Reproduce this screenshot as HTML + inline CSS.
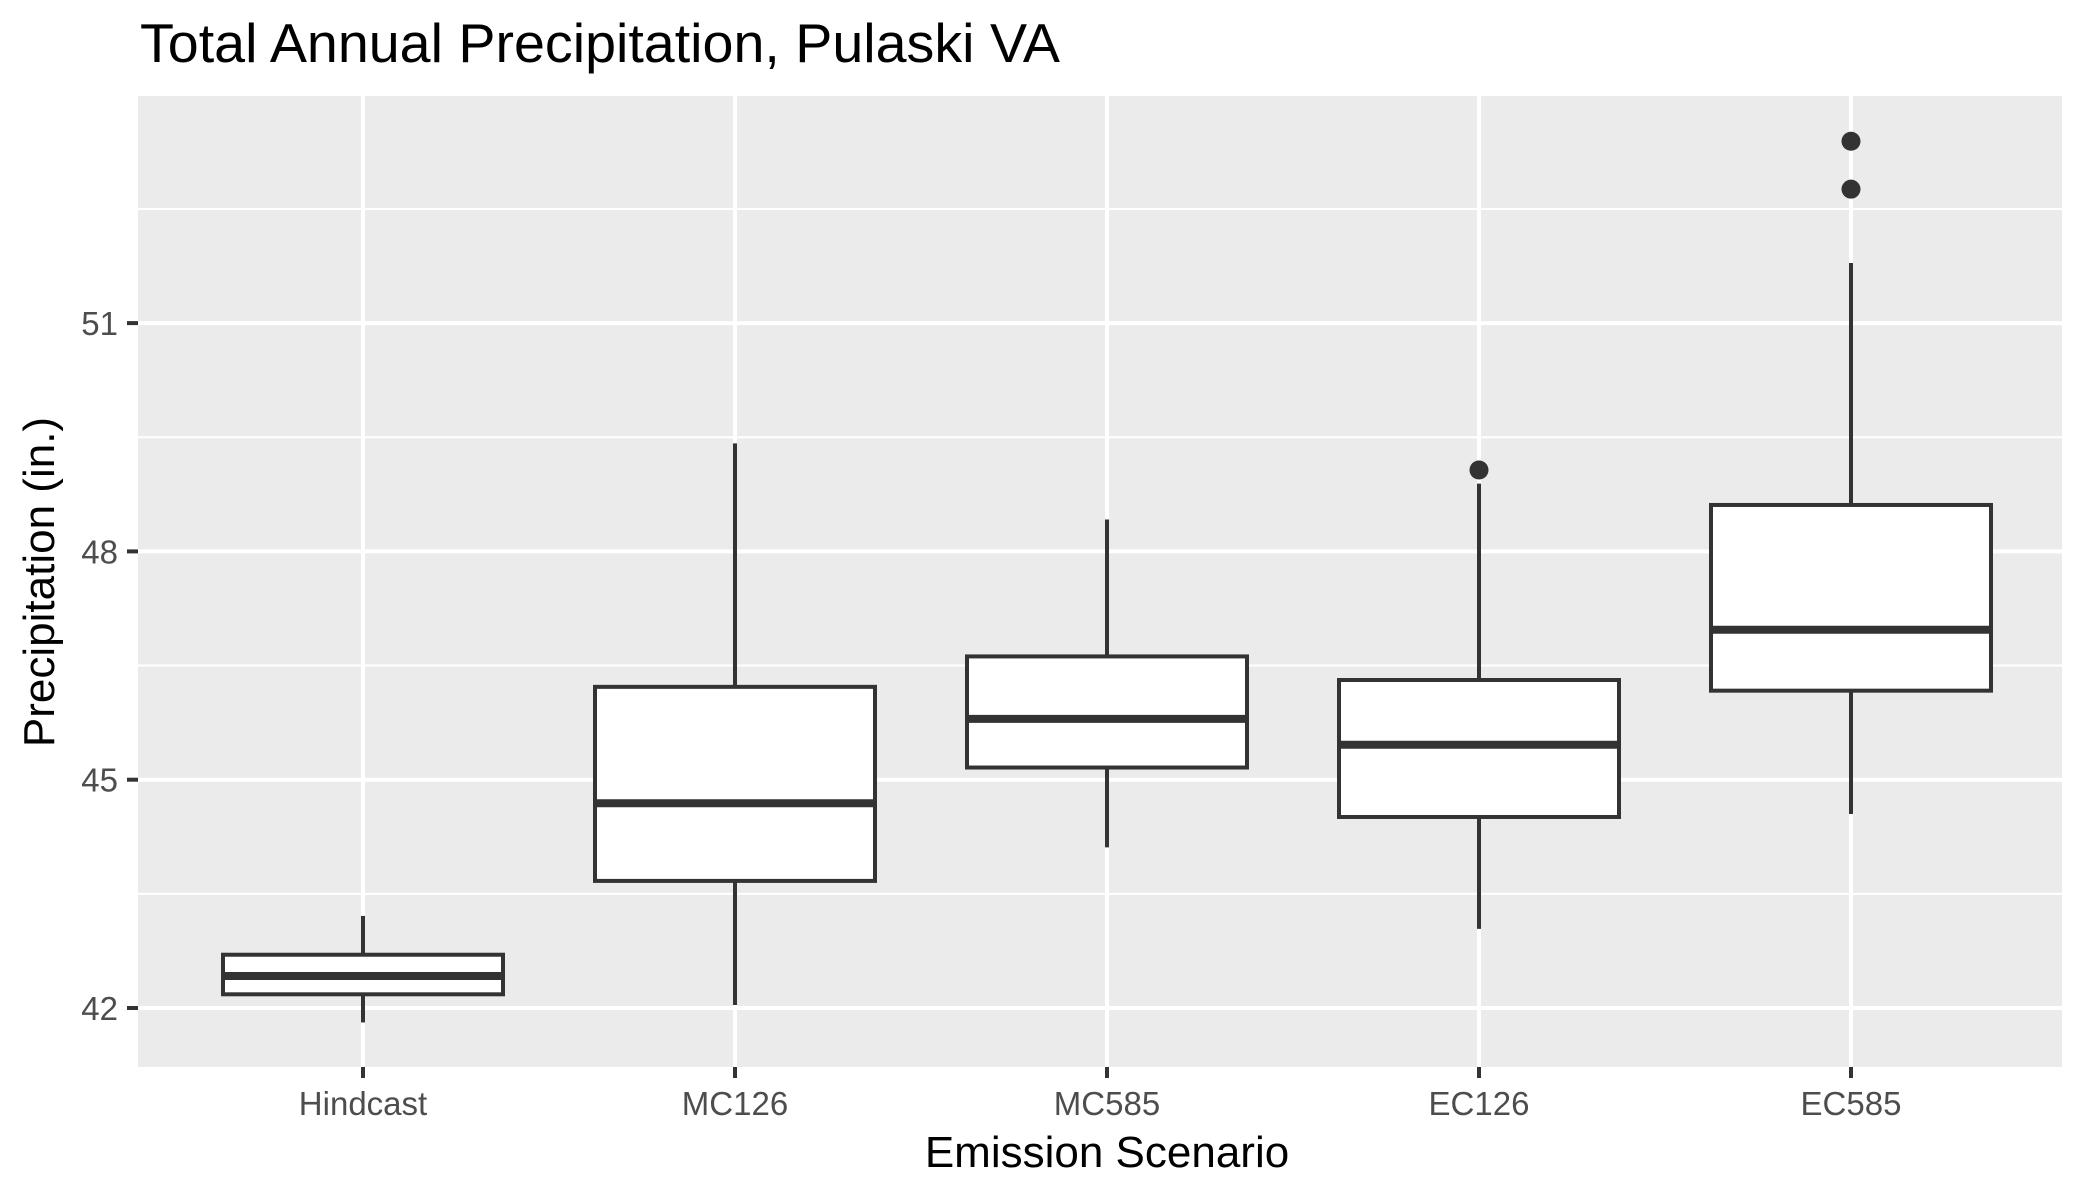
<!DOCTYPE html>
<html><head><meta charset="utf-8"><style>
html,body{margin:0;padding:0;background:#fff;}
svg{display:block;font-family:"Liberation Sans",sans-serif;}
</style></head><body>
<svg id="chart" width="2100" height="1200" viewBox="0 0 2100 1200">
<rect x="0" y="0" width="2100" height="1200" fill="#fff"/>
<text x="140" y="62" font-size="55" fill="#000" textLength="920" lengthAdjust="spacingAndGlyphs">Total Annual Precipitation, Pulaski VA</text>
<rect x="138" y="96" width="1924" height="971" fill="#ebebeb"/>
<g id="grid"></g>
<g id="marks"></g>
<g id="axes"></g>
<text x="1107" y="1167" font-size="44" text-anchor="middle" fill="#000">Emission Scenario</text>
<text transform="translate(54,582) rotate(-90)" font-size="44" text-anchor="middle" fill="#000">Precipitation (in.)</text>
</svg>
<script>
const categories = ["Hindcast","MC126","MC585","EC126","EC585"];
const whiskerLow = [41.81, 42.04, 44.11, 43.04, 44.55];
const q1 = [42.18, 43.67, 45.16, 44.51, 46.17];
const median = [42.42, 44.69, 45.80, 45.46, 46.97];
const q3 = [42.70, 46.22, 46.62, 46.31, 48.61];
const whiskerHigh = [43.21, 49.42, 48.42, 48.89, 51.79];
const outlierCat = [3, 4, 4];
const outlierVal = [49.07, 52.76, 53.39];
const yTicks = [42, 45, 48, 51];
const yMinor = [43.5, 46.5, 49.5, 52.5];

const NS = "http://www.w3.org/2000/svg";
const panelL = 138, panelR = 2062, panelT = 96, panelB = 1067;
function y(v){ return 1008 - (v - 42) * 76.1; }
function x(i){ return 363 + i * 372; }
const boxW = 280;
function mk(tag, attrs, parent){
  const e = document.createElementNS(NS, tag);
  for (const k in attrs) e.setAttribute(k, attrs[k]);
  parent.appendChild(e);
  return e;
}
const grid = document.getElementById('grid');
const marks = document.getElementById('marks');
const axes = document.getElementById('axes');

yMinor.forEach(v => {
  const l = mk('line', {x1: panelL, x2: panelR, y1: y(v), y2: y(v), stroke: '#fff', 'stroke-width': 2}, grid);
  
  
});
yTicks.forEach(v => {
  const l = mk('line', {x1: panelL, x2: panelR, y1: y(v), y2: y(v), stroke: '#fff', 'stroke-width': 4}, grid);
  
  
  const t = mk('line', {x1: panelL - 11, x2: panelL, y1: y(v), y2: y(v), stroke: '#333', 'stroke-width': 4}, axes);
  
  
  const tx = mk('text', {x: panelL - 20, y: y(v) + 12, 'font-size': 33, 'text-anchor': 'end', fill: '#4d4d4d'}, axes);
  tx.textContent = v;
  
  
});
categories.forEach((c, i) => {
  const l = mk('line', {x1: x(i), x2: x(i), y1: panelT, y2: panelB, stroke: '#fff', 'stroke-width': 4}, grid);
  
  
  const t = mk('line', {x1: x(i), x2: x(i), y1: panelB, y2: panelB + 11, stroke: '#333', 'stroke-width': 4}, axes);
  
  
  const tx = mk('text', {x: x(i), y: 1115, 'font-size': 33, 'text-anchor': 'middle', fill: '#4d4d4d'}, axes);
  tx.textContent = c;
  
  

  const g = mk('g', {}, marks);
  
  
  const w1 = mk('line', {x1: x(i), x2: x(i), y1: y(q3[i]), y2: y(whiskerHigh[i]), stroke: '#333', 'stroke-width': 4}, g);
  
  
  const w2 = mk('line', {x1: x(i), x2: x(i), y1: y(q1[i]), y2: y(whiskerLow[i]), stroke: '#333', 'stroke-width': 4}, g);
  
  
  const b = mk('rect', {x: x(i) - boxW / 2, y: y(q3[i]), width: boxW, height: y(q1[i]) - y(q3[i]), fill: '#fff', stroke: '#333', 'stroke-width': 4}, g);
  
  
  const m = mk('line', {x1: x(i) - boxW / 2, x2: x(i) + boxW / 2, y1: y(median[i]), y2: y(median[i]), stroke: '#333', 'stroke-width': 8}, g);
  
  
});
outlierCat.forEach((ci, k) => {
  const p = mk('circle', {cx: x(ci), cy: y(outlierVal[k]), r: 9.5, fill: '#333'}, marks);
  
  
});
</script>
</body></html>
